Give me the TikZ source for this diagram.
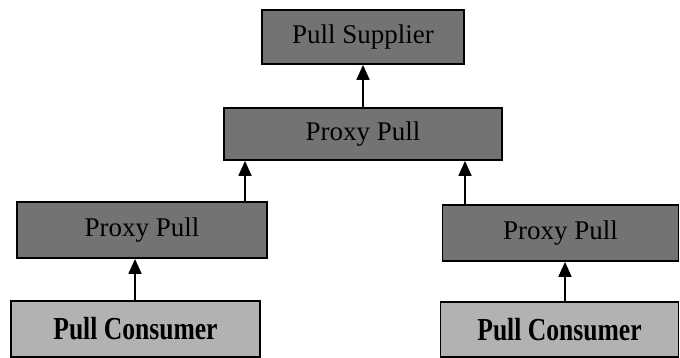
\documentclass[tikz,border=0pt]{standalone}
\usepackage{fontspec}
\setmainfont{Liberation Serif}
\newfontfamily\condbold[FakeStretch=0.8]{Liberation Serif Bold}
\usetikzlibrary{arrows.meta}
\begin{document}
\begin{tikzpicture}[x=1pt,y=1pt,
  darkbox/.style={draw=black,line width=1.8pt,fill=black!55,inner sep=0pt,font=\fontsize{27}{27}\selectfont,text=black},
  lightbox/.style={draw=black,line width=1.6pt,fill=black!30,inner sep=0pt,font=\condbold\fontsize{32}{32}\selectfont,text=black},
  arr/.style={line width=1.8pt,-{Triangle[width=13pt,length=15pt]}}]
\useasboundingbox (0,0) rectangle (680,358);
\node[darkbox,minimum width=202pt,minimum height=54pt] (sup) at (363,321) {Pull Supplier};
\node[darkbox,minimum width=278pt,minimum height=52pt] (mp) at (363,224) {Proxy Pull};
\node[darkbox,minimum width=250pt,minimum height=56pt] (lp) at (142,128) {Proxy Pull};
\node[darkbox,minimum width=236pt,minimum height=56pt] (rp) at (560.5,125) {Proxy Pull};
\node[lightbox,minimum width=249pt,minimum height=56pt] (lc) at (135.5,29) {Pull Consumer};
\node[lightbox,minimum width=238pt,minimum height=55pt] (rc) at (559.5,28.5) {Pull Consumer};
\draw[arr] (mp.north -| 363,0) -- (sup.south -| 363,0);
\draw[arr] (lp.north -| 245,0) -- (mp.south -| 245,0);
\draw[arr] (rp.north -| 465,0) -- (mp.south -| 465,0);
\draw[arr] (lc.north -| 135,0) -- (lp.south -| 135,0);
\draw[arr] (rc.north -| 565,0) -- (rp.south -| 565,0);
\end{tikzpicture}
\end{document}
